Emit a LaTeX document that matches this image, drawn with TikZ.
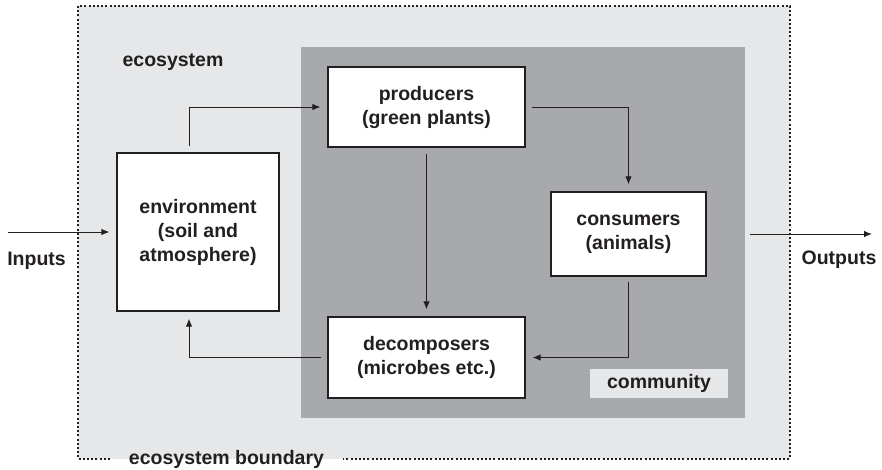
\documentclass[tikz,border=0pt]{standalone}
\usepackage{fontspec}
\setmainfont{Liberation Sans}
\usetikzlibrary{arrows.meta}
\definecolor{ink}{HTML}{231F20}
\definecolor{eco}{HTML}{E6E7E8}
\definecolor{comm}{HTML}{A7A9AC}
\tikzset{
  lbl/.style={font=\fontsize{19.5}{24}\selectfont\bfseries, text=ink, align=center, inner sep=0pt},
  box/.style={lbl, draw=ink, line width=1.3pt, fill=white},
  arr/.style={draw=ink, line width=1pt, -{Latex[length=8pt,width=6.5pt]}},
  dotline/.style={draw=ink, line width=2pt, dash pattern=on 2pt off 2.2pt}
}
\begin{document}
\begin{tikzpicture}[x=1pt,y=-1pt]
\useasboundingbox (0,0) rectangle (882,469);

% ecosystem area
\fill[eco] (78,6) rectangle (790,459);
\draw[dotline] (110,459) -- (78,459) -- (78,6) -- (790,6) -- (790,459) -- (343,459);
\node[lbl] (boundary) at (226.5,459) {ecosystem boundary};
\node[lbl] (ecolabel) at (173,62) {ecosystem};

% community area
\fill[comm] (301,47) rectangle (745,418);
\node[lbl, fill=eco, minimum width=138pt, minimum height=29pt] (commlabel) at (659,383.5) {community};

% compartments
\node[box, minimum width=197pt, minimum height=80pt] (prod) at (426.5,107) {producers\\(green plants)};
\node[box, minimum width=155pt, minimum height=84pt] (cons) at (628.5,234) {consumers\\(animals)};
\node[box, minimum width=197pt, minimum height=81pt] (dec) at (426.5,357.5) {decomposers\\(microbes etc.)};
\node[box, minimum width=162pt, minimum height=158pt] (env) at (198,232) {environment\\(soil and\\atmosphere)};

% flows inside the ecosystem
\draw[arr] ([xshift=-9pt,yshift=6pt]env.north) |- ([xshift=-7pt]prod.west);
\draw[arr] ([xshift=6pt]prod.east) -| ([yshift=7pt]cons.north);
\draw[arr] ([yshift=-6pt]prod.south) -- ([yshift=7pt]dec.north);
\draw[arr] ([yshift=-5pt]cons.south) |- ([xshift=7pt]dec.east);
\draw[arr] ([xshift=-6pt]dec.west) -| ([xshift=-9pt,yshift=-7pt]env.south);

% inputs and outputs
\coordinate (instart) at (8,232);
\draw[arr] (instart) -- ([xshift=-7pt]env.west);
\node[lbl] (inputs) at (36.5,261) {Inputs};
\coordinate (outstart) at (750,234);
\coordinate (outend) at (872,234);
\draw[arr] (outstart) -- (outend);
\node[lbl] (outputs) at (839,260) {Outputs};
\end{tikzpicture}
\end{document}
